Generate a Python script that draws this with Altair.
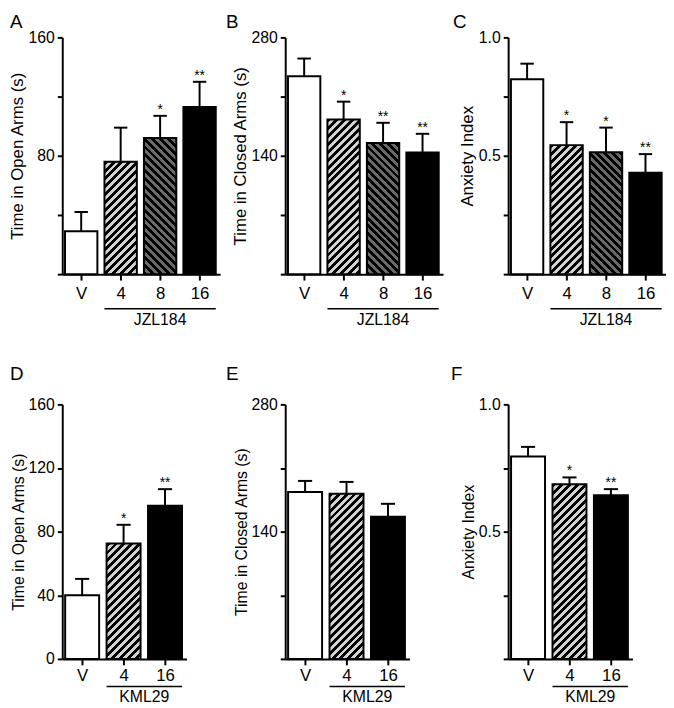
import math
import altair as alt
import pandas as pd

# ---------------- data ----------------
jzl_groups = ["V", "4", "8", "16"]
kml_groups = ["V", "4", "16"]

open_jzl_mean = [29, 76, 92, 113]
open_jzl_sem = [13, 23, 15, 17]
closed_jzl_mean = [234, 183, 155, 144]
closed_jzl_sem = [21, 21, 24, 22]
anx_jzl_mean = [0.823, 0.545, 0.515, 0.428]
anx_jzl_sem = [0.066, 0.097, 0.104, 0.079]

open_kml_mean = [40, 72.5, 96.3]
open_kml_sem = [10.3, 11.8, 10.4]
closed_kml_mean = [183.7, 181.6, 156.4]
closed_kml_sem = [12.1, 13.1, 14.2]
anx_kml_mean = [0.795, 0.686, 0.643]
anx_kml_sem = [0.038, 0.027, 0.024]

jzl_sig_open = ["", "", "*", "**"]
jzl_sig_closed = ["", "*", "**", "**"]
jzl_sig_anx = ["", "*", "*", "**"]
kml_sig_open = ["", "*", "**"]
kml_sig_closed = ["", "", ""]
kml_sig_anx = ["", "*", "**"]

panel_letters = ["A", "B", "C", "D", "E", "F"]
drug_names = ["JZL184", "KML29"]

# ---------------- styling ----------------
FONT = "Liberation Sans"
LIGHT = "#d2d2d2"
DARK = "#6a6a6a"
styles = {"V": ("white", None), "4": (LIGHT, "/"), "8": (DARK, "\\"), "16": ("black", None)}


def hatch(w, h, base, direction, pitch=8.0, frac=0.5):
    """Diagonal stripes built from a hard-stop linear gradient (bbox units)."""
    L = w + h
    k = (w + h) / (w * w + h * h)
    if direction == "/":
        x1, y1, x2, y2 = 0, 0, k * w, k * h
    else:
        x1, y1, x2, y2 = 0, 1, k * w, 1 - k * h
    p = pitch / L
    stops = []
    i = 0
    while i * p < 1:
        a = i * p
        b = min((i + frac) * p, 1)
        c = min((i + 1) * p, 1)
        stops += [
            {"offset": a, "color": "black"},
            {"offset": b, "color": "black"},
            {"offset": b, "color": base},
            {"offset": c, "color": base},
        ]
        i += 1
    return {"gradient": "linear", "x1": x1, "y1": y1, "x2": x2, "y2": y2, "stops": stops}


def panel(letter, groups, means, sems, sigs, drug, ymax, yvals, shown, yfmt,
          ytitle, width, height, title_size, letter_dx, letter_dy,
          label_pad, line_dy, drug_dy):
    n = len(groups)
    halfw = 0.41
    lo, hi = -0.48, n - 0.48
    pxu = width / (hi - lo)
    df = pd.DataFrame({
        "idx": list(range(n)),
        "g": groups,
        "mean": means,
        "top": [m + s for m, s in zip(means, sems)],
        "sig": sigs,
    })
    xs = alt.Scale(domain=[lo, hi], nice=False, zero=False)
    ys = alt.Scale(domain=[0, ymax], nice=False, zero=True)
    labels_js = "[" + ",".join("'%s'" % g for g in groups) + "]"
    shown_js = " || ".join("datum.value == %s" % v for v in shown)
    xaxis = alt.Axis(values=list(range(n)), labelExpr=labels_js + "[round(datum.value)]",
                     title=None, tickSize=6, labelPadding=label_pad, labelFontSize=17,
                     labelFont=FONT, grid=False)
    yaxis = alt.Axis(values=yvals, labelExpr="(%s) ? datum.label : ''" % shown_js,
                     format=yfmt, title=ytitle, titleFontSize=title_size, titleFont=FONT,
                     titleFontWeight="normal", titlePadding=2, tickSize=5,
                     labelFontSize=16, labelFont=FONT, labelPadding=3, grid=False)

    def X(f):
        return alt.X(f, scale=xs, axis=xaxis)

    def Y(f):
        return alt.Y(f, scale=ys, axis=yaxis)

    base = alt.Chart(df).transform_calculate(
        x0="datum.idx - %f" % halfw, x1="datum.idx + %f" % halfw, zero="0",
        c0="datum.idx - 0.17", c1="datum.idx + 0.17")

    layers = []
    for i, g in enumerate(groups):
        col, direction = styles[g]
        if direction is None:
            fill = col
        else:
            w = 2 * halfw * pxu
            h = means[i] / ymax * height
            fill = hatch(w, h, col, direction)
        layers.append(base.transform_filter("datum.idx == %d" % i)
                      .mark_bar(fill=fill, stroke="black", strokeWidth=2)
                      .encode(x=X("x0:Q"), x2="x1:Q", y=Y("mean:Q"), y2="zero:Q"))

    err = base.mark_rule(color="black", strokeWidth=2).encode(
        x=X("idx:Q"), y=Y("mean:Q"), y2="top:Q")
    cap = base.mark_rule(color="black", strokeWidth=2).encode(
        x=X("c0:Q"), x2="c1:Q", y=Y("top:Q"))
    stars = base.mark_text(font=FONT, fontSize=14, baseline="alphabetic", dy=-2,
                           color="black").encode(x=X("idx:Q"), y=Y("top:Q"), text="sig:N")

    ann = pd.DataFrame({"lo": [1 - halfw], "hi": [n - 1 + halfw],
                        "mid": [(n) / 2.0], "drug": [drug], "letter": [letter]})
    abase = alt.Chart(ann)
    uline = abase.mark_rule(color="black", strokeWidth=1.5).encode(
        x=X("lo:Q"), x2="hi:Q", y=alt.value(height + line_dy))
    dlabel = abase.mark_text(font=FONT, fontSize=16, baseline="middle",
                             color="black").encode(
        x=X("mid:Q"), y=alt.value(height + drug_dy), text="drug:N")
    let = abase.mark_text(font=FONT, fontSize=19, align="left", baseline="alphabetic",
                          color="black").encode(
        x=alt.value(letter_dx), y=alt.value(letter_dy), text="letter:N")

    return alt.layer(*layers, err, cap, stars, uline, dlabel, let).properties(
        width=width, height=height)


W1, H1 = 160, 240
W2, H2 = 126, 258
pA = panel(panel_letters[0], jzl_groups, open_jzl_mean, open_jzl_sem, jzl_sig_open, drug_names[0],
           160, [0, 40, 80, 120, 160], [80, 160], "d", "Time in Open Arms (s)", W1, H1, 17,
           -53, -10, 6, 35, 47)
pB = panel(panel_letters[1], jzl_groups, closed_jzl_mean, closed_jzl_sem, jzl_sig_closed, drug_names[0],
           280, [0, 70, 140, 210, 280], [140, 280], "d", "Time in Closed Arms (s)", W1, H1, 17,
           -60, -10, 6, 35, 47)
pC = panel(panel_letters[2], jzl_groups, anx_jzl_mean, anx_jzl_sem, jzl_sig_anx, drug_names[0],
           1.0, [0, 0.25, 0.5, 0.75, 1.0], [0.5, 1], ".1f", "Anxiety Index", W1, H1, 17,
           -56, -10, 6, 35, 47)
pD = panel(panel_letters[3], kml_groups, open_kml_mean, open_kml_sem, kml_sig_open, drug_names[1],
           160, [0, 40, 80, 120, 160], [0, 40, 80, 120, 160], "d", "Time in Open Arms (s)", W2, H2, 16,
           -53, -25, 3, 28, 39)
pE = panel(panel_letters[4], kml_groups, closed_kml_mean, closed_kml_sem, kml_sig_closed, drug_names[1],
           280, [0, 70, 140, 210, 280], [140, 280], "d", "Time in Closed Arms (s)", W2, H2, 16,
           -60, -25, 3, 28, 39)
pF = panel(panel_letters[5], kml_groups, anx_kml_mean, anx_kml_sem, kml_sig_anx, drug_names[1],
           1.0, [0, 0.25, 0.5, 0.75, 1.0], [0.5, 1], ".1f", "Anxiety Index", W2, H2, 16,
           -58, -25, 3, 28, 39)

row1 = alt.hconcat(pA, pB, pC, spacing=66, bounds="flush")
row2 = alt.hconcat(pD, pE, pF, spacing=100, bounds="flush")
chart = alt.vconcat(row1, row2, spacing=37).properties(
    padding=0, background="white"
).configure_view(stroke=None).configure_axis(
    domainColor="black", domainWidth=2, tickColor="black", tickWidth=2,
    labelColor="black", titleColor="black"
)

chart.save("out.html", embed_options={"renderer": "svg", "actions": False})
